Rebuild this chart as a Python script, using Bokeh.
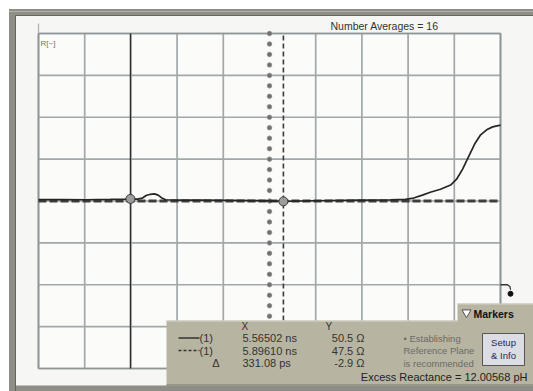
from bokeh.plotting import figure
from bokeh.models import Range1d
from bokeh.core.properties import value
from bokeh.embed import file_html
from bokeh.resources import INLINE

# ---------------- data ----------------
trace_t = [5.366, 5.414, 5.468, 5.522, 5.554, 5.565, 5.580, 5.591, 5.599, 5.608,
           5.617, 5.625, 5.632, 5.641, 5.673, 5.717, 5.782, 5.846, 5.896, 5.933,
           5.998, 6.063, 6.128, 6.160, 6.178, 6.197, 6.214, 6.236, 6.258, 6.271,
           6.284, 6.297, 6.310, 6.323, 6.336, 6.349, 6.366]
trace_r = [49.6, 49.8, 49.5, 49.9, 50.2, 50.5, 50.2, 51.5, 54.5, 56.0,
           56.5, 55.0, 52.0, 49.5, 49.0, 49.2, 48.8, 48.4, 47.5, 48.0,
           48.6, 49.0, 49.4, 50.0, 51.5, 55.0, 58.5, 62.0, 67.0, 74.0,
           86.0, 101.0, 116.0, 127.0, 133.0, 136.5, 138.5]
marker_t = [5.56502, 5.89610]          # ns
marker_r = [50.5, 47.5]                # ohm
marker_trace = ["(1)", "(1)"]
delta_r_label = "-2.9 Ω"
number_averages = 16
excess_reactance = "12.00568 pH"
reference_note = ["• Establishing", "Reference Plane", "is recommended"]
button_lines = ["Setup", "& Info"]

grid_t0, t_per_div, n_xdiv = 5.366, 0.1, 10
grid_r0, r_per_div, n_ydiv = -152.0, 50.0, 8
grid_t1 = grid_t0 + n_xdiv * t_per_div
grid_r1 = grid_r0 + n_ydiv * r_per_div
ref_level = grid_r0 + 2 * r_per_div

# ---------------- layout ----------------
W, H = 533, 391
GL, GR, GT, GB = 38, 500, 33, 368          # grid box in canvas px
kx = (GR - GL) / (n_xdiv * t_per_div)
ky = (GB - GT) / (n_ydiv * r_per_div)
xs = grid_t0 - GL / kx
xe = xs + W / kx
ye = grid_r1 + GT / ky
ys = ye - H / ky


def X(px):  # canvas pixel -> data x
    return xs + px / kx


def Y(py):  # canvas pixel -> data y
    return ye - py / ky


FONT = value("Liberation Sans")

p = figure(width=W, height=H, x_range=Range1d(xs, xe), y_range=Range1d(ys, ye),
           x_axis_type=None, y_axis_type=None, toolbar_location=None,
           output_backend="svg", min_border=0, title=None,
           background_fill_color="white", border_fill_color="white")
p.outline_line_color = None

# window frame
p.quad(left=[X(8.5)], right=[X(545)], top=[Y(8.5)], bottom=[Y(400)],
       fill_color="#8e8e87", line_color=None)
p.quad(left=[X(15)], right=[X(545)], top=[Y(15)], bottom=[Y(385)],
       fill_color="#f6f6f4", line_color=None)
p.line([X(15), X(545)], [Y(15), Y(15)], line_color="#66665f", line_width=1)
p.line([X(15), X(15)], [Y(15), Y(400)], line_color="#66665f", line_width=1)
p.line([X(8.5), X(545)], [Y(11), Y(11)], line_color="#b4b4ae", line_width=1)

# grid area
p.quad(left=[grid_t0], right=[grid_t1], top=[grid_r1], bottom=[grid_r0],
       fill_color="#fbfbfa", line_color=None)
vx = [grid_t0 + i * t_per_div for i in range(n_xdiv + 1) if i != n_xdiv // 2]
p.segment(x0=vx, x1=vx, y0=[grid_r0] * len(vx), y1=[grid_r1] * len(vx),
          line_color="#a2a7a7", line_width=1.7)
hy = [grid_r0 + j * r_per_div for j in range(n_ydiv + 1)]
p.segment(x0=[grid_t0] * len(hy), x1=[grid_t1] * len(hy), y0=hy, y1=hy,
          line_color="#a2a7a7", line_width=1.7)
p.line([grid_t0, grid_t1, grid_t1, grid_t0, grid_t0],
       [grid_r0, grid_r0, grid_r1, grid_r1, grid_r0],
       line_color="#8f9595", line_width=1.7)

# centre graticule: dotted vertical, beaded horizontal
tc = grid_t0 + (n_xdiv // 2) * t_per_div
rc = grid_r0 + (n_ydiv // 2) * r_per_div
ty = [grid_r0 + k * r_per_div / 4 for k in range(4 * n_ydiv + 1)]
p.scatter([tc] * len(ty), ty, size=4.5, fill_color="#707070", line_color="#8a8a8a",
          line_width=0.8)
p.line([grid_t0, grid_t1], [rc, rc], line_color="#3e3e3e", line_width=3.2,
       line_dash="8 3")

# marker lines
p.segment(x0=[marker_t[0]], x1=[marker_t[0]], y0=[grid_r0], y1=[grid_r1],
          line_color="#2e2e2e", line_width=1.4)
p.segment(x0=[marker_t[1]], x1=[marker_t[1]], y0=[grid_r0], y1=[grid_r1],
          line_color="#3a3a3a", line_width=1.6, line_dash="5 3")

# trace
p.line(trace_t, trace_r, line_color="#262626", line_width=1.7)
p.scatter(marker_t, marker_r, size=9, fill_color="#9c9c9c", line_color="#3c3c3c",
          line_width=1)

# reference level hook at right edge
p.line([grid_t1, grid_t1 + 7 / kx, grid_t1 + 9.5 / kx, grid_t1 + 10 / kx],
       [ref_level, ref_level, ref_level - 2 / ky, ref_level - 5 / ky],
       line_color="#333333", line_width=1.3)
p.scatter([grid_t1 + 10 / kx], [ref_level - 9 / ky], size=5, fill_color="#111111",
          line_color="#111111")

# small tick top-left and labels
p.line([grid_t0, grid_t0], [grid_r1, grid_r1 + 10 / ky], line_color="#b0b0b0", line_width=1.2)
p.text([X(40)], [Y(43)], text=["R[~]"], text_font=FONT, text_font_size="8px",
       text_color="#707070", text_baseline="middle")
p.text([X(330)], [Y(25)], text=[f"Number Averages = {number_averages}"], text_font=FONT,
       text_font_size="10.5px", text_color="#333333", text_baseline="middle")

# ---------------- info panel ----------------
PANEL = "#b7b5a2"
p.quad(left=[X(457)], right=[X(545)], top=[Y(303)], bottom=[Y(322)],
       fill_color=PANEL, line_color=None)
p.quad(left=[X(166)], right=[X(545)], top=[Y(320)], bottom=[Y(385)],
       fill_color=PANEL, line_color=None)
p.line([X(166), X(457)], [Y(320.5), Y(320.5)], line_color="#d6d4c6", line_width=1)
p.line([X(457), X(545)], [Y(303.5), Y(303.5)], line_color="#d6d4c6", line_width=1)
p.line([X(166), X(545)], [Y(384.5), Y(384.5)], line_color="#77766a", line_width=1)
p.scatter([X(466)], [Y(312)], marker="inverted_triangle", size=9,
          fill_color="white", line_color="#555555")
p.text([X(473)], [Y(313)], text=["Markers"], text_font=FONT, text_font_size="10.5px",
       text_font_style="bold", text_color="#111111", text_baseline="middle")

p.text([X(241), X(325)], [Y(326), Y(326)], text=["X", "Y"], text_font=FONT,
       text_font_size="10px", text_color="#333333", text_baseline="middle")

row_y = [Y(337.5), Y(350), Y(362.5)]
p.line([X(178), X(199)], [row_y[0], row_y[0]], line_color="#333333", line_width=1.3)
p.line([X(178), X(199)], [row_y[1], row_y[1]], line_color="#333333", line_width=1.3,
       line_dash="3 2")
p.text([X(199), X(199)], row_y[:2], text=marker_trace, text_font=FONT,
       text_font_size="11px", text_color="#333333", text_baseline="middle")
p.text([X(219)], [row_y[2]], text=["Δ"], text_font=FONT, text_font_size="11px",
       text_color="#333333", text_baseline="middle", text_align="right")
x_labels = [f"{t:.5f} ns" for t in marker_t] + [f"{(marker_t[1] - marker_t[0]) * 1000:.2f} ps"]
y_labels = [f"{r:.1f} Ω" for r in marker_r] + [delta_r_label]
p.text([X(242)] * 3, row_y, text=x_labels, text_font=FONT, text_font_size="11px",
       text_color="#333333", text_baseline="middle")
p.text([X(364)] * 3, row_y, text=y_labels, text_font=FONT, text_font_size="11px",
       text_color="#333333", text_baseline="middle", text_align="right")
p.text([X(403)] * 3, row_y, text=reference_note, text_font=FONT, text_font_size="9.5px",
       text_color="#6a6a66", text_baseline="middle")

# Setup & Info button
p.quad(left=[X(482)], right=[X(524)], top=[Y(333)], bottom=[Y(365)],
       fill_color="#dcdce4", line_color="#555555", line_width=1)
p.text([X(503)] * 2, [Y(342), Y(355)], text=button_lines, text_font=FONT,
       text_font_size="9.5px", text_color="#2a2a55", text_baseline="middle",
       text_align="center")

p.text([X(530)], [Y(376.5)], text=[f"Excess Reactance =  {excess_reactance}"],
       text_font=FONT, text_font_size="11px", text_color="#222222",
       text_baseline="middle", text_align="right")

open("out.html", "w").write(file_html(p, INLINE))
